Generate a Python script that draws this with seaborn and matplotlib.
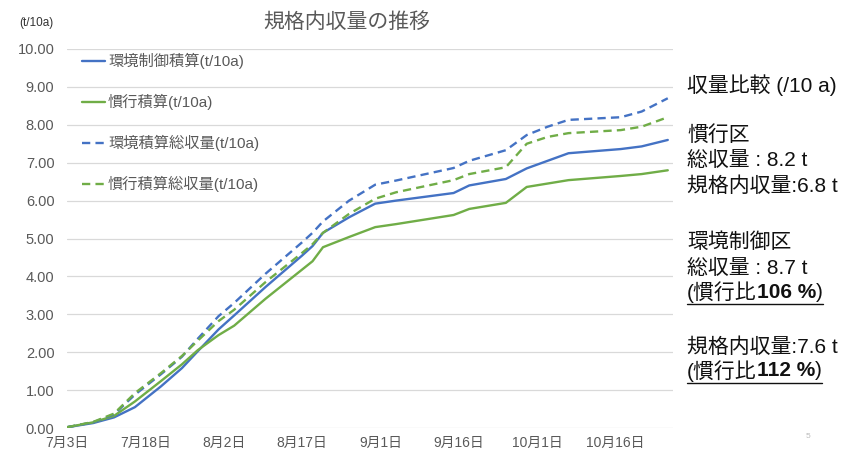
import numpy as np
import pandas as pd
import matplotlib
matplotlib.use("Agg")
import matplotlib.pyplot as plt
import matplotlib.dates as mdates
from matplotlib.ticker import FixedLocator, FuncFormatter
from matplotlib.lines import Line2D
import seaborn as sns

# Harvest record dates
dates = ["2021-07-03", "2021-07-08", "2021-07-12", "2021-07-16", "2021-07-21",
         "2021-07-25", "2021-07-28", "2021-08-01", "2021-08-04", "2021-08-10",
         "2021-08-17", "2021-08-19", "2021-08-21", "2021-08-26", "2021-08-31",
         "2021-09-04", "2021-09-15", "2021-09-18", "2021-09-25", "2021-09-29",
         "2021-10-03", "2021-10-07", "2021-10-17", "2021-10-21", "2021-10-26"]

# Cumulative yields (t/10a)
env_marketable = [0.02, 0.13, 0.28, 0.55, 1.10, 1.58, 2.02, 2.60, 2.97, 3.72,
                  4.55, 4.80, 5.15, 5.56, 5.92, 6.00, 6.20, 6.40, 6.57, 6.85,
                  7.05, 7.25, 7.36, 7.43, 7.60]
conv_marketable = [0.02, 0.15, 0.32, 0.70, 1.24, 1.68, 2.05, 2.45, 2.70, 3.41,
                   4.18, 4.40, 4.77, 5.04, 5.30, 5.38, 5.62, 5.78, 5.94, 6.36,
                   6.45, 6.54, 6.65, 6.70, 6.80]
env_total = [0.02, 0.15, 0.36, 0.88, 1.42, 1.88, 2.35, 2.95, 3.30, 4.07,
             4.90, 5.15, 5.45, 6.00, 6.42, 6.53, 6.86, 7.05, 7.33, 7.73,
             7.95, 8.13, 8.20, 8.35, 8.70]
conv_total = [0.02, 0.16, 0.38, 0.92, 1.45, 1.90, 2.30, 2.82, 3.12, 3.85,
              4.62, 4.85, 5.15, 5.65, 6.05, 6.22, 6.54, 6.70, 6.88, 7.50,
              7.68, 7.78, 7.86, 7.95, 8.20]

series_names = ["環境制御積算(t/10a)", "慣行積算(t/10a)",
                "環境積算総収量(t/10a)", "慣行積算総収量(t/10a)"]
series_colors = ["#4472C4", "#70AD47", "#4472C4", "#70AD47"]
series_dashed = [False, False, True, True]

tick_dates = ["2021-07-03", "2021-07-18", "2021-08-02", "2021-08-17",
              "2021-09-01", "2021-09-16", "2021-10-01", "2021-10-16"]
y_ticks = [0, 1, 2, 3, 4, 5, 6, 7, 8, 9, 10]
x_range = ["2021-07-03", "2021-10-27"]

# Long-form table for seaborn
frames = []
for name, vals in zip(series_names, [env_marketable, conv_marketable, env_total, conv_total]):
    frames.append(pd.DataFrame({"date": pd.to_datetime(dates), "value": vals, "series": name}))
df = pd.concat(frames, ignore_index=True)

sns.set_theme(style="white")
plt.rcParams["font.family"] = ["Liberation Sans", "Noto Sans CJK JP"]

W, H = 849, 450
fig = plt.figure(figsize=(W / 100, H / 100), dpi=100)
ax = fig.add_axes([67 / W, 22 / H, (673 - 67) / W, (428 - 49) / H])

palette = dict(zip(series_names, series_colors))
dashes = {n: ((3.5, 2.2) if d else "") for n, d in zip(series_names, series_dashed)}
sns.lineplot(data=df, x="date", y="value", hue="series", style="series",
             hue_order=series_names, style_order=series_names,
             palette=palette, dashes=dashes, linewidth=1.7, ax=ax)

ax.set_ylim(0, 10)
ax.set_xlim(pd.to_datetime(x_range[0]), pd.to_datetime(x_range[1]))
ax.yaxis.set_major_locator(FixedLocator(y_ticks))
ax.yaxis.set_major_formatter(FuncFormatter(lambda v, p: f"{v:.2f}"))
ax.xaxis.set_major_locator(FixedLocator(mdates.date2num(pd.to_datetime(tick_dates))))
ax.xaxis.set_major_formatter(FuncFormatter(
    lambda v, p: f"{mdates.num2date(v).month}月{mdates.num2date(v).day}日"))
ax.tick_params(axis="y", labelsize=10.5, labelcolor="#595959", length=0, pad=9)
ax.tick_params(axis="x", labelsize=10, labelcolor="#595959", length=0, pad=6)
ax.set_xlabel("")
ax.set_ylabel("")
for s in ax.spines.values():
    s.set_visible(False)
ax.grid(axis="y", color="#d9d9d9", linewidth=0.9)
ax.grid(axis="x", visible=False)

handles, labels = ax.get_legend_handles_labels()
ax.legend(handles, labels, loc="upper left", bbox_to_anchor=(76 / W, 1 - 47 / H),
          bbox_transform=fig.transFigure, frameon=False, fontsize=11,
          labelspacing=1.62, handlelength=1.5, handletextpad=0.2,
          labelcolor="#595959", borderaxespad=0)

fig.text(347 / W, 1 - 22 / H, "規格内収量の推移", ha="center", va="center",
         fontsize=15, color="#595959")
fig.text(36 / W, 1 - 23 / H, "(t/10a)", ha="center", va="center",
         fontsize=8.5, color="#333333")

# Summary panel on the right
fig.canvas.draw()
renderer = fig.canvas.get_renderer()
FS = 15


def put_line(y_px, segments, underline=False):
    x = 687 / W
    first = None
    last = None
    for s, w in segments:
        t = fig.text(x, 1 - y_px / H, s, ha="left", va="center", fontsize=FS,
                     color="#111111", fontweight=w)
        bb = t.get_window_extent(renderer)
        if first is None:
            first = bb
        last = bb
        x = bb.x1 / W
    if underline:
        yl = (first.y0 - 1) / H
        fig.add_artist(Line2D([first.x0 / W, last.x1 / W], [yl, yl],
                              color="#111111", linewidth=1.0,
                              transform=fig.transFigure))


put_line(85, [("収量比較 (/10 a)", "normal")])
put_line(135, [("慣行区", "normal")])
put_line(160, [("総収量 : 8.2 t", "normal")])
put_line(186, [("規格内収量:6.8 t", "normal")])
put_line(242, [("環境制御区", "normal")])
put_line(268, [("総収量 : 8.7 t", "normal")])
put_line(292, [("(慣行比", "normal"), ("106 %", "bold"), (")", "normal")], underline=True)
put_line(347, [("規格内収量:7.6 t", "normal")])
put_line(371, [("(慣行比", "normal"), ("112 %", "bold"), (")", "normal")], underline=True)

fig.text(808 / W, 1 - 437 / H, "5", ha="center", va="center", fontsize=6, color="#bbbbbb")

fig.savefig("out.png", dpi=100)
